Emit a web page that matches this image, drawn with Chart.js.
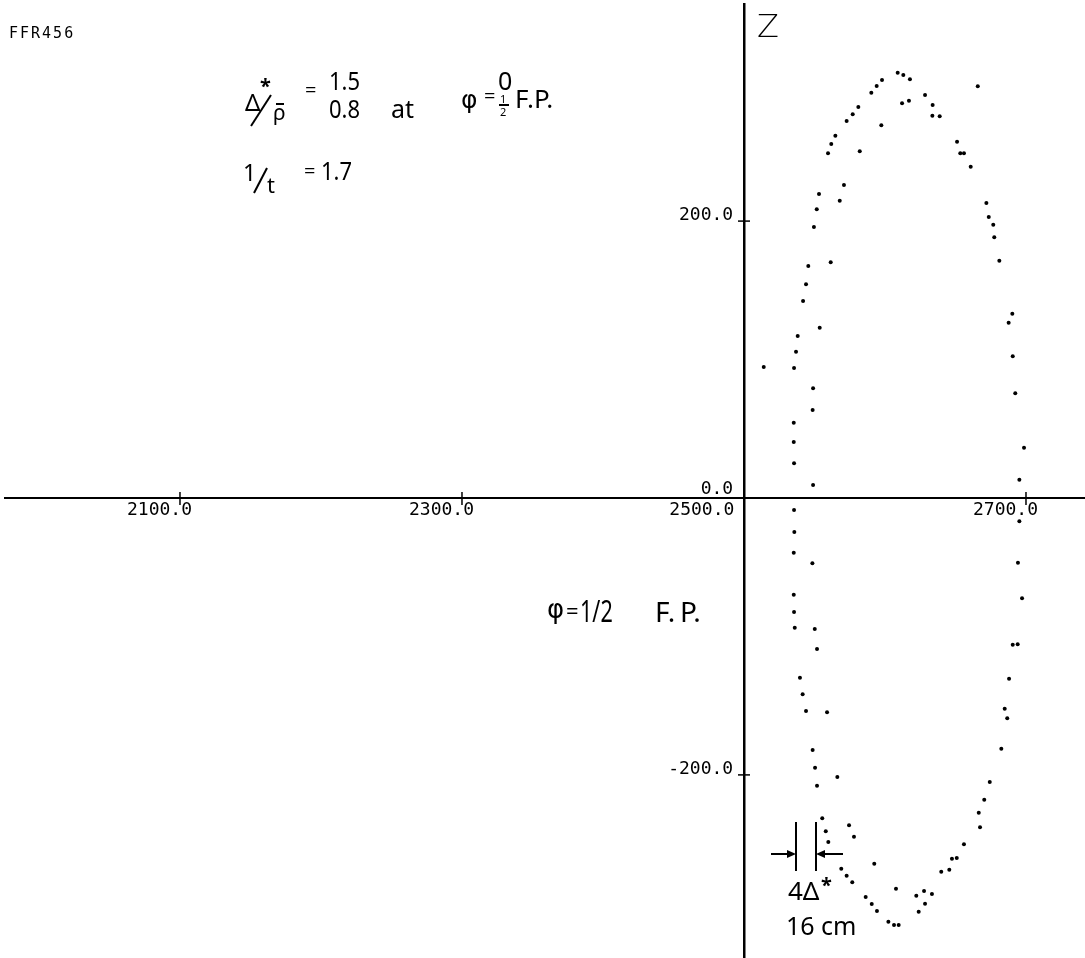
<!DOCTYPE html>
<html lang="en">
  <head>
    <meta charset="UTF-8" />
    <title>FFR456</title>
    <script src="https://cdn.jsdelivr.net/npm/chart.js"></script>
    <style>
      body {
        margin: 0;
        background: #fff;
      }
      #wrap {
        width: 1085px;
        height: 958px;
      }
    </style>
  </head>
  <body>
    <div id="wrap"><canvas id="orbit" width="1085" height="958"></canvas></div>

    <script>
      // particle positions, R (horizontal) and Z (vertical)
      const rValues = [
        2609.0, 2613.0, 2617.7, 2597.9, 2594.1, 2590.3, 2665.8, 2628.4, 2612.1, 2617.0,
        2633.8, 2581.1, 2577.1, 2633.6, 2638.8, 2572.8, 2597.4, 2564.8, 2561.9, 2651.1,
        2653.4, 2656.0, 2559.6, 2582.1, 2660.8, 2570.9, 2553.2, 2567.9, 2551.6, 2671.9,
        2673.6, 2676.8, 2549.6, 2677.5, 2545.6, 2561.5, 2681.1, 2544.0, 2541.9, 2690.3,
        2687.7, 2553.7, 2538.1, 2536.9, 2690.6, 2514.0, 2535.5, 2549.0, 2692.4, 2548.7,
        2535.3, 2535.3, 2698.6, 2535.5, 2695.3, 2549.0, 2535.5, 2695.3, 2535.7, 2535.3,
        2548.5, 2694.3, 2535.3, 2697.2, 2535.5, 2536.0, 2550.2, 2551.8, 2690.6, 2694.1,
        2539.7, 2688.0, 2541.6, 2684.9, 2544.0, 2558.9, 2686.7, 2682.5, 2548.7, 2550.4,
        2566.2, 2551.8, 2674.3, 2670.4, 2555.5, 2666.5, 2667.4, 2558.0, 2574.5, 2578.0,
        2559.8, 2656.0, 2592.4, 2647.5, 2650.9, 2569.0, 2639.9, 2645.6, 2572.8, 2576.8,
        2607.8, 2586.3, 2622.2, 2627.7, 2633.3, 2590.6, 2628.4, 2594.3, 2623.9, 2602.4,
        2606.4, 2609.7
      ];
      const zValues = [
        307.2, 305.5, 302.4, 301.9, 297.6, 292.7, 297.4, 291.1, 285.1, 287.0,
        283.9, 282.4, 277.1, 276.1, 275.7, 272.3, 269.2, 261.7, 255.7, 257.3,
        249.0, 249.0, 249.0, 250.4, 239.3, 226.1, 219.6, 214.7, 208.5, 213.1,
        203.0, 197.4, 195.7, 188.3, 167.6, 170.2, 171.4, 154.4, 142.3, 133.1,
        126.6, 123.0, 117.0, 105.7, 102.3, 94.6, 93.9, 79.2, 75.6, 63.6,
        54.4, 40.4, 36.3, 25.1, 13.2, 9.4, -8.7, -16.8, -24.6, -39.5,
        -47.2, -46.7, -69.8, -72.4, -82.3, -93.7, -94.6, -109.1, -106.0, -105.7,
        -129.8, -130.5, -141.8, -152.2, -153.8, -154.8, -159.1, -181.1, -182.0, -194.8,
        -201.5, -207.8, -205.1, -217.9, -231.3, -227.3, -237.8, -240.7, -236.4, -244.6,
        -248.5, -250.1, -264.1, -260.5, -260.0, -267.7, -269.9, -268.5, -272.8, -277.6,
        -282.2, -288.2, -287.2, -283.9, -286.0, -293.2, -293.0, -298.3, -298.8, -306.0,
        -308.4, -308.4
      ];
      const rTicks = [2100, 2300, 2500, 2700];
      const zTicks = [-200, 0, 200];

      const points = rValues.map((r, i) => ({ x: r, y: zValues[i] }));
      const mono = "DejaVu Sans Mono";
      const sans = "Noto Sans";
      const greek = "DejaVu Sans";

      function line(ctx, x1, y1, x2, y2) {
        ctx.beginPath();
        ctx.moveTo(x1, y1);
        ctx.lineTo(x2, y2);
        ctx.stroke();
      }

      function txt(ctx, s, x, y, size, family, weight) {
        ctx.font = (weight || "normal") + " " + size + "px \"" + (family || sans) + "\"";
        ctx.fillText(s, x, y);
      }

      // narrow lettering: squeeze the glyphs horizontally
      function narrow(ctx, s, x, y, size, sx, family) {
        ctx.save();
        ctx.translate(x, y);
        ctx.scale(sx, 1);
        txt(ctx, s, 0, 0, size, family);
        ctx.restore();
      }

      // scales placed on the other axis keep no label padding
      const noPad = (scale) => {
        scale.paddingTop = 0;
        scale.paddingBottom = 0;
        scale.paddingLeft = 0;
        scale.paddingRight = 0;
      };

      // small tick crosses on both axes plus the hand lettering
      const annotations = {
        id: "annotations",
        afterDraw(chart) {
          const ctx = chart.ctx;
          const xs = chart.scales.x;
          const ys = chart.scales.y;
          const x0 = xs.getPixelForValue(2500);
          const y0 = ys.getPixelForValue(0);

          ctx.save();
          ctx.strokeStyle = "#000";
          ctx.fillStyle = "#000";
          ctx.lineWidth = 1.5;
          xs.ticks.forEach((t) => {
            const p = xs.getPixelForValue(t.value);
            line(ctx, p, y0 - 6, p, y0 + 7);
          });
          ys.ticks.forEach((t) => {
            const p = ys.getPixelForValue(t.value);
            line(ctx, x0 - 6, p, x0 + 6, p);
          });

          ctx.textAlign = "left";
          ctx.textBaseline = "alphabetic";

          // run label
          ctx.font = "15px \"" + mono + "\"";
          ctx.letterSpacing = "2px";
          ctx.fillText("FFR456", 9, 38);
          ctx.letterSpacing = "0px";

          // axis name
          ctx.font = "200 32px \"" + greek + "\"";
          ctx.fillText("Z", 757, 37);

          // Δ*/ρ = 1.5 / 0.8 at φ = 0 / ½ F.P.
          txt(ctx, "Δ", 245, 111, 24);
          txt(ctx, "*", 260, 93, 20, sans, "bold");
          ctx.lineWidth = 2;
          line(ctx, 251, 126, 271, 95);
          txt(ctx, "ρ", 273, 120, 21);
          line(ctx, 276, 104, 284, 104);
          txt(ctx, "=", 305, 97, 20);
          narrow(ctx, "1.5", 329, 90, 25, 0.88);
          narrow(ctx, "0.8", 329, 118, 25, 0.88);
          txt(ctx, "at", 391, 118, 25);
          txt(ctx, "φ", 461, 108, 25, greek);
          txt(ctx, "=", 484, 103, 20);
          txt(ctx, "0", 498, 90, 25);
          txt(ctx, "1", 500, 103, 11);
          line(ctx, 499, 105, 509, 105);
          txt(ctx, "2", 500, 116, 11);
          txt(ctx, "F.P.", 515, 108, 26);

          // 1/t = 1.7
          txt(ctx, "1", 243, 181, 23);
          line(ctx, 254, 193, 267, 168);
          txt(ctx, "t", 267, 193, 22);
          txt(ctx, "=", 304, 178, 20);
          narrow(ctx, "1.7", 321, 180, 25, 0.88);

          // phase label
          txt(ctx, "φ", 547, 618, 26, greek);
          txt(ctx, "=", 566, 619, 22);
          narrow(ctx, "1/2", 580, 622, 30, 0.72);
          txt(ctx, "F.", 655, 622, 28);
          txt(ctx, "P.", 680, 622, 28);

          // 4Δ spacing marker
          ctx.lineWidth = 2;
          line(ctx, 796, 822, 796, 871);
          line(ctx, 816, 822, 816, 871);
          line(ctx, 771, 854, 790, 854);
          line(ctx, 843, 854, 822, 854);
          ctx.beginPath();
          ctx.moveTo(796, 854);
          ctx.lineTo(787, 850);
          ctx.lineTo(787, 858);
          ctx.closePath();
          ctx.fill();
          ctx.beginPath();
          ctx.moveTo(816, 854);
          ctx.lineTo(825, 850);
          ctx.lineTo(825, 858);
          ctx.closePath();
          ctx.fill();
          txt(ctx, "4Δ", 788, 900, 26);
          txt(ctx, "*", 821, 892, 20, sans, "bold");
          txt(ctx, "16 cm", 786, 935, 25);

          ctx.restore();
        },
      };

      const zTickFont = (ctx) => ({
        family: mono,
        size: 18,
        lineHeight: ctx.tick && ctx.tick.value === 0 ? "6px" : 1.2,
      });

      new Chart(document.getElementById("orbit").getContext("2d"), {
        type: "scatter",
        data: {
          datasets: [
            {
              data: points,
              backgroundColor: "#000",
              borderWidth: 0,
              pointRadius: 2,
            },
          ],
        },
        options: {
          responsive: false,
          animation: false,
          layout: {
            autoPadding: false,
            padding: { left: 5, top: 4, right: 0, bottom: 0 },
          },
          plugins: {
            legend: { display: false },
            tooltip: { enabled: false },
          },
          scales: {
            x: {
              type: "linear",
              min: 1975.9,
              max: 2741.85,
              position: { y: 0 },
              afterBuildTicks: (scale) => {
                scale.ticks = rTicks.map((v) => ({ value: v }));
              },
              afterFit: noPad,
              grid: { display: false, drawTicks: false },
              border: { display: true, color: "#000", width: 2 },
              ticks: {
                color: "#000",
                font: { family: mono, size: 18 },
                padding: 2,
                align: "end",
                labelOffset: 12,
                maxRotation: 0,
                autoSkip: false,
                callback: (v) => (v === 2500 ? v.toFixed(1) + "  " : v.toFixed(1)),
              },
            },
            y: {
              type: "linear",
              min: -332.25,
              max: 356.8,
              position: { x: 2500 },
              afterBuildTicks: (scale) => {
                scale.ticks = zTicks.map((v) => ({ value: v }));
              },
              afterFit: noPad,
              grid: { display: false, drawTicks: false },
              border: { display: true, color: "#000", width: 2.5 },
              ticks: {
                color: "#000",
                font: zTickFont,
                padding: 0,
                labelOffset: -6,
                autoSkip: false,
                callback: (v) => (v === 0 ? ["0.0 ", ""] : v.toFixed(1) + " "),
              },
            },
          },
        },
        plugins: [annotations],
      });
    </script>
  </body>
</html>
